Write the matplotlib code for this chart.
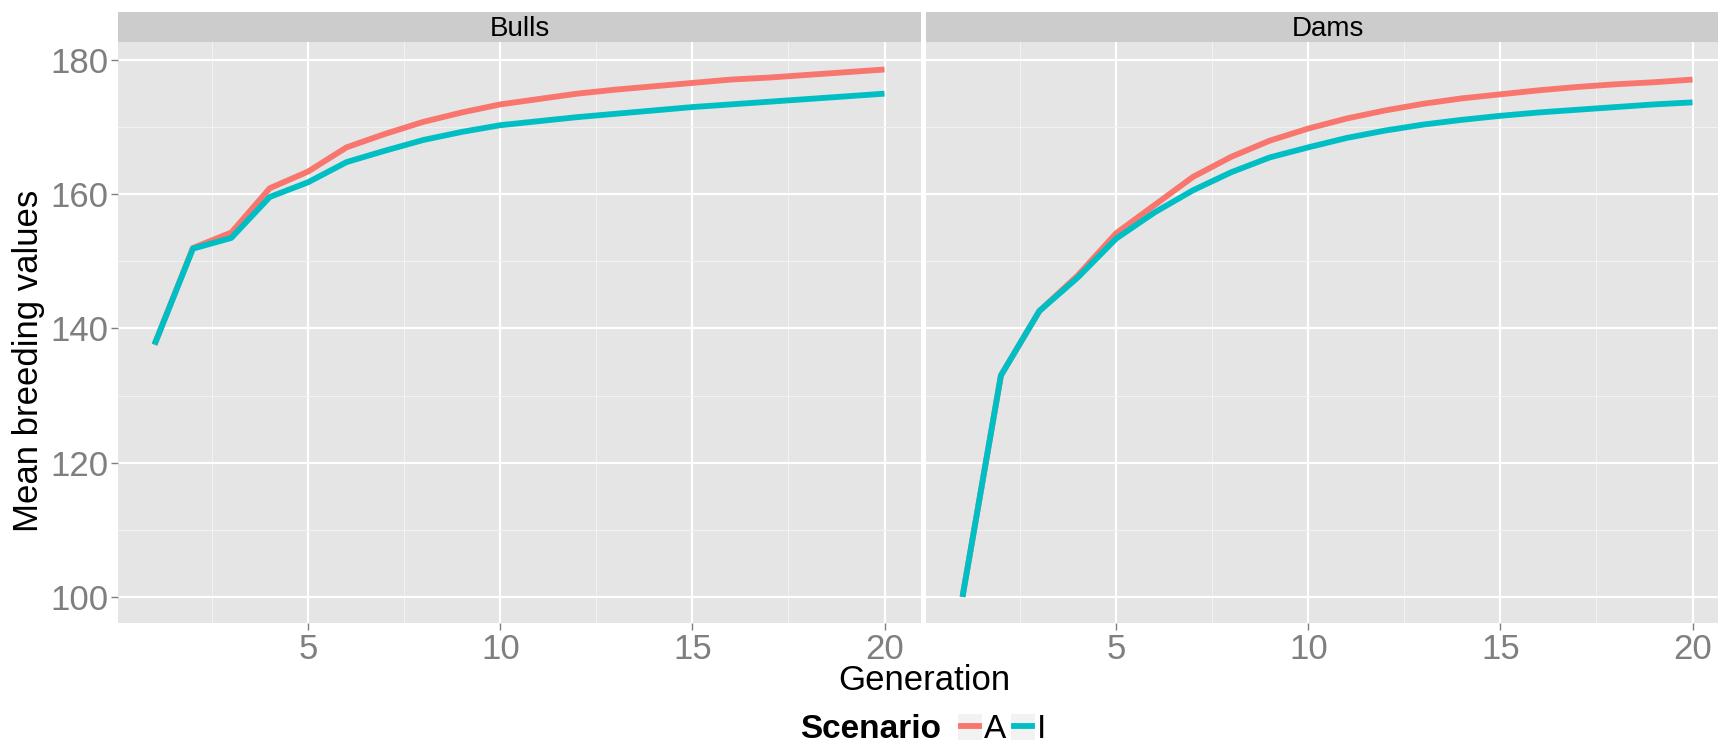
import matplotlib
matplotlib.use("Agg")
import matplotlib.pyplot as plt
from matplotlib.lines import Line2D
from matplotlib.patches import Rectangle

plt.rcParams['font.family'] = ['Liberation Sans', 'DejaVu Sans']

generation = list(range(1, 21))

bulls_A = [137.6, 152.0, 154.3, 160.9, 163.4, 167.0, 169.0, 170.8, 172.2, 173.4,
           174.2, 175.0, 175.6, 176.1, 176.6, 177.1, 177.4, 177.8, 178.2, 178.6]
bulls_I = [137.6, 151.9, 153.5, 159.6, 161.8, 164.8, 166.5, 168.1, 169.3, 170.3,
           170.9, 171.5, 172.0, 172.5, 173.0, 173.4, 173.8, 174.2, 174.6, 175.0]
dams_A = [100.0, 133.0, 142.6, 147.9, 154.2, 158.4, 162.6, 165.6, 168.0, 169.8,
          171.3, 172.5, 173.5, 174.3, 174.9, 175.5, 176.0, 176.4, 176.7, 177.1]
dams_I = [100.0, 133.0, 142.6, 147.6, 153.4, 157.3, 160.6, 163.3, 165.5, 167.0,
          168.4, 169.5, 170.4, 171.1, 171.7, 172.2, 172.6, 173.0, 173.4, 173.7]

facets = ["Bulls", "Dams"]
scenarios = ["A", "I"]
colors = {"A": "#F8766D", "I": "#00BFC4"}
x_ticks = [5, 10, 15, 20]
y_ticks = [100, 120, 140, 160, 180]

W, H = 1718, 745
fig = plt.figure(figsize=(W / 100, H / 100), dpi=100)

def fx(px):
    return px / W

def fy(py):
    return 1 - py / H

panel_top, panel_bot = 42, 623
strip_top = 12
panels = [(118, 921), (926, 1729)]
data = {"Bulls": {"A": bulls_A, "I": bulls_I}, "Dams": {"A": dams_A, "I": dams_I}}

for i, (name, (l, r)) in enumerate(zip(facets, panels)):
    ax = fig.add_axes([fx(l), fy(panel_bot), fx(r - l), (panel_bot - panel_top) / H])
    ax.set_facecolor("#E5E5E5")
    ax.set_xlim(0.05, 20.95)
    ax.set_ylim(96.1, 182.7)
    for s in ax.spines.values():
        s.set_visible(False)
    ax.set_xticks(x_ticks)
    ax.set_yticks(y_ticks)
    ax.set_xticks([2.5, 7.5, 12.5, 17.5], minor=True)
    ax.set_yticks([110, 130, 150, 170], minor=True)
    ax.grid(which="major", color="white", lw=1.6)
    ax.grid(which="minor", color="#F2F2F2", lw=0.8)
    ax.set_axisbelow(True)
    ax.tick_params(which="minor", length=0)
    ax.tick_params(which="major", length=5, width=1, color="#7F7F7F",
                   labelcolor="#7F7F7F", labelsize=25, pad=2)
    if i > 0:
        ax.tick_params(axis="y", left=False, labelleft=False)
    for sc in scenarios:
        ax.plot(generation, data[name][sc], color=colors[sc], lw=4.2,
                solid_capstyle="butt")

    # facet strip
    sax = fig.add_axes([fx(l), fy(panel_top), fx(r - l), (panel_top - strip_top) / H])
    sax.set_facecolor("#CCCCCC")
    sax.set_xticks([])
    sax.set_yticks([])
    for s in sax.spines.values():
        s.set_visible(False)
    sax.text(0.5, 0.45, name, transform=sax.transAxes, ha="center", va="center",
             fontsize=20, family=['Liberation Sans Narrow', 'Liberation Sans', 'DejaVu Sans'])

fig.text(fx(29), fy(361), "Mean breeding values", rotation=90, ha="center",
         va="center", fontsize=25)
fig.text(fx(924), fy(690), "Generation", ha="center", va="baseline", fontsize=25)

# legend
fig.text(fx(800), fy(738), "Scenario", ha="left", va="baseline", fontsize=24,
         fontweight="bold")
key_pos = [(958, "A"), (1011, "I")]
for kx, sc in key_pos:
    fig.add_artist(Rectangle((fx(kx), fy(740)), fx(24), 26 / H,
                             transform=fig.transFigure, color="#F2F2F2", lw=0))
    fig.add_artist(Line2D([fx(kx + 3), fx(kx + 21)], [fy(726), fy(726)],
                          transform=fig.transFigure, color=colors[sc], lw=4.2))
    fig.text(fx(kx + 26), fy(738), sc, ha="left", va="baseline", fontsize=24)

fig.savefig("out.png", dpi=100)
